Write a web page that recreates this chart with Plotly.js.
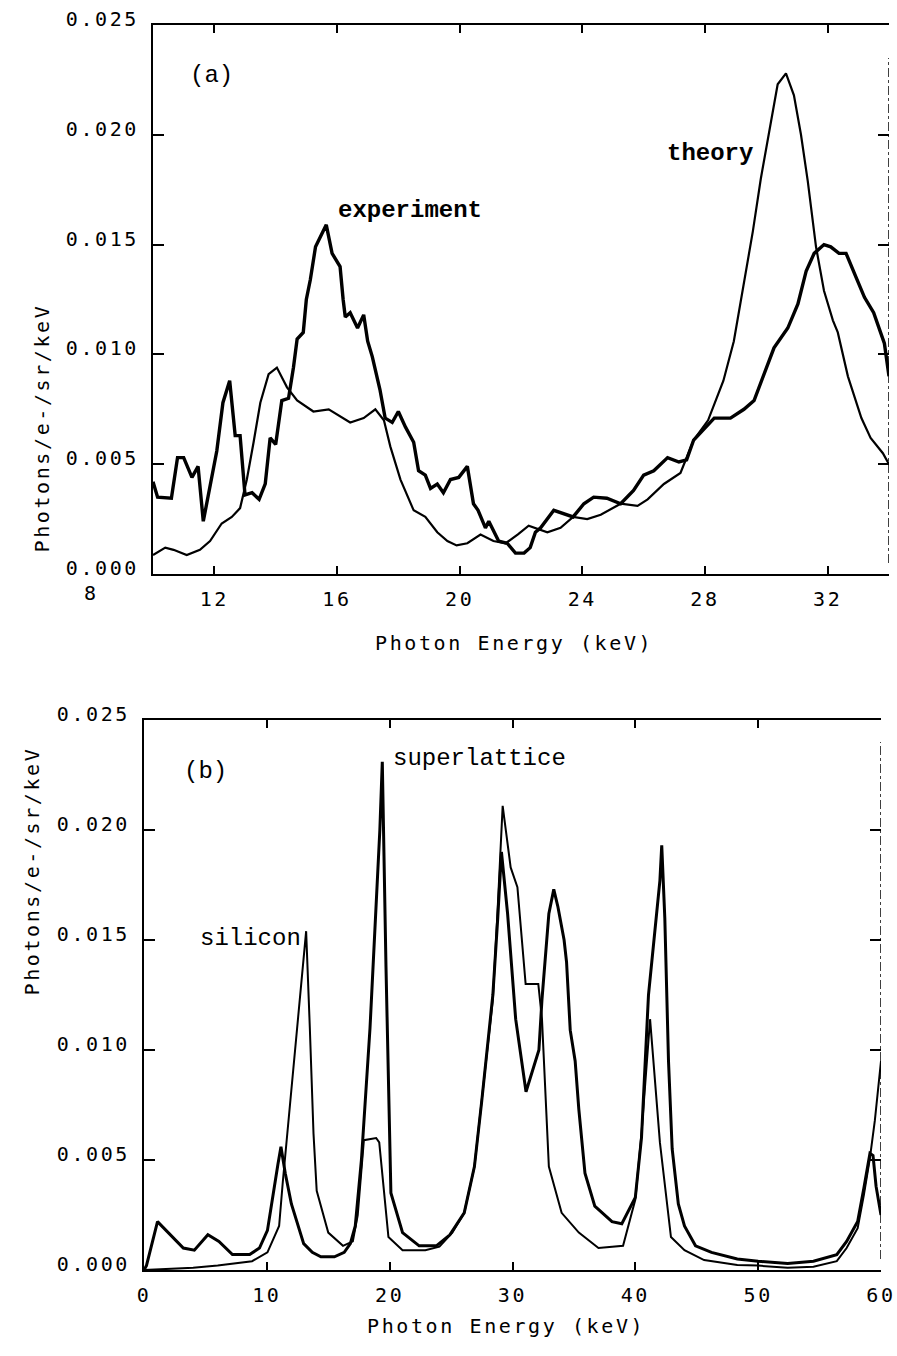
<!DOCTYPE html>
<html>
<head>
<meta charset="utf-8">
<script src="https://cdn.plot.ly/plotly-3.0.1.min.js"></script>
<style>
  html, body { margin: 0; padding: 0; background: #fff; }
  #chart { width: 897px; height: 1356px; }
  text[style*="DejaVu Sans Mono"] { letter-spacing: 2.6px; }
</style>
</head>
<body>
<div id="chart"></div>
<script>
// ---------------- DATA ----------------
// Panel (a): photon energy (keV) and yield (photons/e-/sr/keV)
const expEnergy = [10.0, 10.15, 10.6, 10.8, 11.0, 11.27, 11.47, 11.64, 12.08, 12.28, 12.5, 12.68, 12.84, 13.0, 13.23, 13.46, 13.66, 13.82, 14.0, 14.2, 14.42, 14.58, 14.7, 14.9, 15.0, 15.13, 15.3, 15.65, 15.84, 16.1, 16.2, 16.27, 16.43, 16.67, 16.87, 17.0, 17.15, 17.4, 17.57, 17.8, 18.0, 18.23, 18.5, 18.66, 18.88, 19.05, 19.27, 19.47, 19.7, 19.97, 20.25, 20.45, 20.6, 20.84, 20.95, 21.27, 21.55, 21.82, 22.1, 22.3, 22.47, 22.64, 23.07, 23.5, 23.7, 24.05, 24.37, 24.8, 25.25, 25.67, 26.0, 26.33, 26.78, 27.15, 27.4, 27.63, 27.97, 28.3, 28.83, 29.27, 29.6, 29.93, 30.25, 30.7, 31.03, 31.3, 31.56, 31.88, 32.1, 32.37, 32.6, 32.93, 33.2, 33.5, 33.85, 34.0];
const expYield  = [0.0042, 0.0035, 0.00345, 0.0053, 0.0053, 0.0044, 0.0049, 0.0024, 0.0056, 0.0078, 0.0088, 0.0063, 0.0063, 0.0036, 0.0037, 0.0034, 0.0041, 0.0062, 0.0059, 0.0079, 0.008, 0.0094, 0.0107, 0.011, 0.0125, 0.0134, 0.0149, 0.0159, 0.0146, 0.014, 0.0125, 0.0117, 0.0119, 0.0112, 0.0118, 0.0106, 0.0099, 0.0084, 0.0071, 0.0069, 0.0074, 0.0067, 0.006, 0.0047, 0.0045, 0.0039, 0.0041, 0.0037, 0.0043, 0.0044, 0.0049, 0.0032, 0.0029, 0.0021, 0.0024, 0.0015, 0.0014, 0.00095, 0.00095, 0.0012, 0.0019, 0.0021, 0.0029, 0.0027, 0.0026, 0.0032, 0.0035, 0.00345, 0.0032, 0.0038, 0.0045, 0.0047, 0.0053, 0.0051, 0.0052, 0.0061, 0.0066, 0.0071, 0.0071, 0.0075, 0.0079, 0.0091, 0.0103, 0.0112, 0.0123, 0.0138, 0.0146, 0.015, 0.0149, 0.0146, 0.0146, 0.0135, 0.0126, 0.0119, 0.0105, 0.009];

const theoEnergy = [10.0, 10.4, 10.67, 11.1, 11.53, 11.86, 12.24, 12.57, 12.84, 13.06, 13.28, 13.5, 13.77, 14.04, 14.37, 14.7, 15.23, 15.73, 16.43, 16.87, 17.25, 17.53, 17.74, 18.07, 18.5, 18.88, 19.27, 19.6, 19.9, 20.25, 20.68, 21.1, 21.5, 21.9, 22.25, 22.86, 23.29, 23.7, 24.16, 24.6, 25.25, 25.8, 26.13, 26.66, 27.2, 27.63, 28.1, 28.6, 28.94, 29.17, 29.56, 29.82, 30.15, 30.37, 30.64, 30.9, 31.13, 31.35, 31.62, 31.88, 32.17, 32.33, 32.66, 33.1, 33.4, 33.8, 34.0];
const theoYield  = [0.00086, 0.0012, 0.0011, 0.00086, 0.0011, 0.0015, 0.0023, 0.0026, 0.003, 0.0043, 0.006, 0.0078, 0.0091, 0.0094, 0.0085, 0.0079, 0.0074, 0.0075, 0.0069, 0.0071, 0.0075, 0.007, 0.0058, 0.0043, 0.0029, 0.0026, 0.0019, 0.0015, 0.0013, 0.0014, 0.0018, 0.0015, 0.0014, 0.0018, 0.0022, 0.0019, 0.0021, 0.0026, 0.0025, 0.0027, 0.0032, 0.0031, 0.0034, 0.0041, 0.0046, 0.0061, 0.007, 0.0088, 0.0106, 0.0125, 0.0156, 0.018, 0.0206, 0.0223, 0.0228, 0.0218, 0.02, 0.0179, 0.0149, 0.0129, 0.01155, 0.011, 0.009, 0.0071, 0.0062, 0.0055, 0.005];

// Panel (b)
const slEnergy = [0, 0.2, 1.1, 3.2, 4.1, 5.2, 6.1, 7.2, 8.6, 9.4, 10.05, 10.5, 10.9, 11.15, 11.5, 12.0, 13.0, 13.7, 14.4, 15.5, 16.3, 16.8, 17.2, 17.7, 18.4, 19.2, 19.4, 19.7, 19.9, 20.1, 21.05, 22.4, 23.8, 24.9, 26.07, 26.9, 27.5, 28.1, 28.4, 28.8, 29.1, 29.6, 30.26, 31.1, 32.15, 32.4, 32.96, 33.36, 33.7, 34.2, 34.4, 34.7, 35.1, 35.4, 35.9, 36.7, 38.1, 38.9, 40.0, 40.5, 41.07, 42.0, 42.15, 42.4, 42.7, 43.0, 43.5, 44.0, 44.9, 46.2, 48.3, 50.0, 52.4, 54.5, 56.4, 57.2, 58.1, 58.6, 59.1, 59.35, 59.6, 60.0];
const slYield  = [0, 0.0002, 0.0022, 0.001, 0.0009, 0.0016, 0.0013, 0.0007, 0.0007, 0.001, 0.0018, 0.0035, 0.0048, 0.0056, 0.0044, 0.003, 0.0012, 0.0008, 0.0006, 0.0006, 0.0008, 0.0012, 0.002, 0.005, 0.011, 0.020, 0.0231, 0.0138, 0.009, 0.0035, 0.0017, 0.0011, 0.0011, 0.0016, 0.0026, 0.0047, 0.0077, 0.0108, 0.0125, 0.016, 0.019, 0.0162, 0.0114, 0.0081, 0.01, 0.0123, 0.0162, 0.0173, 0.0165, 0.015, 0.014, 0.0109, 0.0095, 0.0073, 0.0044, 0.0029, 0.0022, 0.0021, 0.0033, 0.006, 0.0125, 0.0177, 0.0193, 0.016, 0.0095, 0.0055, 0.003, 0.002, 0.0011, 0.0008, 0.0005, 0.0004, 0.0003, 0.0004, 0.0007, 0.0013, 0.0022, 0.0037, 0.0053, 0.0052, 0.0038, 0.0025];

const siEnergy = [0, 2, 4, 6, 7.35, 8.8, 10.05, 11.0, 11.3, 11.6, 12.45, 13.2, 13.5, 13.8, 14.06, 15.0, 16.2, 17.0, 17.4, 17.9, 18.9, 19.15, 19.9, 21.05, 22.9, 24.05, 25.1, 26.07, 26.9, 27.5, 28.1, 28.4, 28.8, 29.2, 29.85, 30.4, 31.07, 32.1, 32.4, 32.96, 34.0, 35.4, 37.0, 39.0, 40.0, 40.5, 41.2, 42.0, 42.9, 44.0, 45.6, 48.3, 50, 52.4, 54.5, 56.4, 57.2, 58.1, 58.6, 59.1, 59.5, 60];
const siYield  = [0, 0.00005, 0.0001, 0.0002, 0.0003, 0.0004, 0.0008, 0.002, 0.004, 0.0058, 0.011, 0.0154, 0.011, 0.0062, 0.0036, 0.0017, 0.0011, 0.0013, 0.0025, 0.0059, 0.006, 0.0058, 0.0015, 0.0009, 0.0009, 0.00106, 0.0017, 0.0026, 0.0047, 0.0077, 0.0108, 0.0123, 0.0165, 0.0211, 0.0183, 0.0174, 0.013, 0.013, 0.0114, 0.0047, 0.0026, 0.0017, 0.001, 0.0011, 0.0032, 0.0062, 0.0114, 0.0058, 0.0015, 0.0009, 0.00045, 0.00023, 0.0002, 0.0001, 0.00015, 0.0004, 0.001, 0.0019, 0.0034, 0.0051, 0.0068, 0.0095];

// Tick labels
const yTickVals = [0, 0.005, 0.010, 0.015, 0.020, 0.025];
const yTickText = ["0.000", "0.005", "0.010", "0.015", "0.020", "0.025"];
const xTickValsA = [12, 16, 20, 24, 28, 32];
const xTickValsB = [0, 10, 20, 30, 40, 50, 60];
const xRangeA = [10, 34];
const xRangeB = [0, 60];
const yRange = [0, 0.025];

// ---------------- LAYOUT ----------------
const W = 897, H = 1356;
const boxA = {l: 153, r: 889, t: 25, b: 574};
const boxB = {l: 144, r: 881, t: 720, b: 1270};
const dx = b => [b.l / W, b.r / W];
const dy = b => [1 - b.b / H, 1 - b.t / H];

const tickFont = {family: "DejaVu Sans Mono", size: 20, color: "#000"};
const labelFont = {family: "Liberation Mono", size: 24, color: "#000"};

function xAxis(domain, range, vals, anchor) {
  return {
    domain: domain, range: range, anchor: anchor,
    tickvals: vals, ticktext: vals.map(String),
    ticks: "inside", ticklen: 8, tickwidth: 2, tickcolor: "#000",
    showline: true, linewidth: 2, linecolor: "#000", mirror: "ticks",
    showgrid: false, zeroline: false, tickfont: tickFont,
    ticklabelstandoff: 6, ticklabeloverflow: "allow", fixedrange: true
  };
}
function yAxis(domain, anchor) {
  return {
    domain: domain, range: yRange, anchor: anchor,
    tickvals: yTickVals, ticktext: yTickText,
    ticks: "inside", ticklen: 11, tickwidth: 2, tickcolor: "#000",
    showline: true, linewidth: 2, linecolor: "#000", mirror: false,
    showgrid: false, zeroline: false, tickfont: tickFont,
    ticklabelstandoff: 8, ticklabelshift: -6, ticklabeloverflow: "allow", fixedrange: true
  };
}
function yRight(overlay, anchor) {
  return {
    overlaying: overlay, side: "right", anchor: anchor, range: yRange,
    tickvals: yTickVals.slice(1, 5), ticks: "inside", ticklen: 11, tickwidth: 2,
    tickcolor: "#000", showticklabels: false, showline: false,
    showgrid: false, zeroline: false, fixedrange: true
  };
}

const traces = [
  {x: theoEnergy, y: theoYield, xaxis: "x", yaxis: "y", mode: "lines",
   line: {color: "#000", width: 2.2}, name: "theory"},
  {x: expEnergy, y: expYield, xaxis: "x", yaxis: "y", mode: "lines",
   line: {color: "#000", width: 3.4}, name: "experiment"},
  {x: siEnergy, y: siYield, xaxis: "x2", yaxis: "y2", mode: "lines",
   line: {color: "#000", width: 2.0}, name: "silicon"},
  {x: slEnergy, y: slYield, xaxis: "x2", yaxis: "y2", mode: "lines",
   line: {color: "#000", width: 3.0}, name: "superlattice"}
];

const dA = dx(boxA), dB = dx(boxB);
const eightX = dA[0] + (8 - xRangeA[0]) / (xRangeA[1] - xRangeA[0]) * (dA[1] - dA[0]);

const annotations = [
  // panel labels and curve labels
  {xref: "x", yref: "y", x: 11.9, y: 0.0227, text: "(a)", font: labelFont, showarrow: false},
  {xref: "x", yref: "y", x: 18.39, y: 0.01655, text: "<b>experiment</b>", font: labelFont, showarrow: false},
  {xref: "x", yref: "y", x: 28.16, y: 0.01914, text: "<b>theory</b>", font: labelFont, showarrow: false},
  {xref: "x2", yref: "y2", x: 5.02, y: 0.02264, text: "(b)", font: labelFont, showarrow: false},
  {xref: "x2", yref: "y2", x: 8.66, y: 0.01509, text: "silicon", font: labelFont, showarrow: false},
  {xref: "x2", yref: "y2", x: 27.3, y: 0.02327, text: "superlattice", font: labelFont, showarrow: false},
  // "8" tick label outside the plotted range
  {xref: "paper", yref: "paper", x: eightX, y: 1 - 593 / H, text: "8", font: tickFont,
   showarrow: false, xanchor: "center", yanchor: "middle"},
  // axis titles
  {xref: "paper", yref: "paper", x: 514 / W, y: 1 - 643 / H, text: "Photon Energy (keV)",
   font: tickFont, showarrow: false},
  {xref: "paper", yref: "paper", x: 506 / W, y: 1 - 1340 / H, text: "Photon Energy (keV)",
   font: tickFont, showarrow: false},
  {xref: "paper", yref: "paper", x: 28 / W, y: 1 - 302 / H, text: "Photons/e-/sr/keV",
   font: tickFont, showarrow: false, textangle: -90},
  {xref: "paper", yref: "paper", x: 17 / W, y: 1 - 998 / H, text: "Photons/e-/sr/keV",
   font: tickFont, showarrow: false, textangle: -90}
];

const shapes = [
  {type: "line", xref: "x", yref: "y", x0: xRangeA[1], x1: xRangeA[1], y0: 0.0005, y1: 0.0235,
   line: {color: "#000", width: 1.5, dash: "dashdot"}},
  {type: "line", xref: "x2", yref: "y2", x0: xRangeB[1], x1: xRangeB[1], y0: 0.0005, y1: 0.024,
   line: {color: "#000", width: 1.5, dash: "dashdot"}}
];

const layout = {
  width: W, height: H,
  margin: {l: 0, r: 0, t: 0, b: 0},
  paper_bgcolor: "#fff", plot_bgcolor: "#fff",
  showlegend: false,
  xaxis: xAxis(dA, xRangeA, xTickValsA, "y"),
  yaxis: yAxis(dy(boxA), "x"),
  xaxis2: xAxis(dB, xRangeB, xTickValsB, "y2"),
  yaxis2: yAxis(dy(boxB), "x2"),
  yaxis3: yRight("y", "x"),
  yaxis4: yRight("y2", "x2"),
  annotations: annotations,
  shapes: shapes
};

// invisible traces to register right-side tick axes
traces.push({x: [xRangeA[0]], y: [0], xaxis: "x", yaxis: "y3", mode: "markers",
             marker: {opacity: 0}, hoverinfo: "skip"});
traces.push({x: [xRangeB[0]], y: [0], xaxis: "x2", yaxis: "y4", mode: "markers",
             marker: {opacity: 0}, hoverinfo: "skip"});

Plotly.newPlot("chart", traces, layout, {staticPlot: true, displayModeBar: false});
</script>
</body>
</html>
